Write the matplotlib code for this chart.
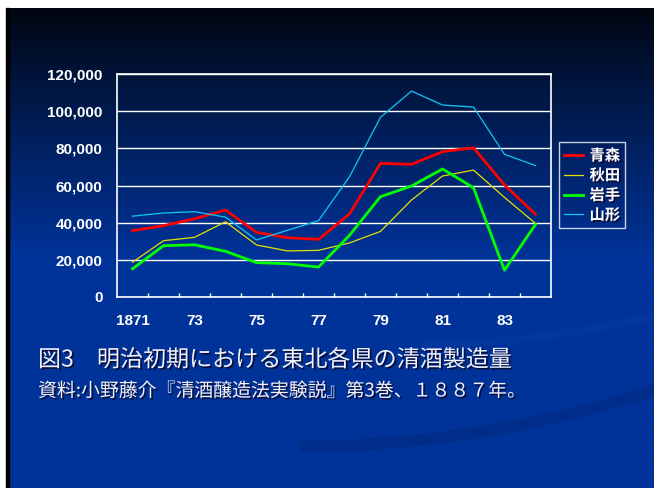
import matplotlib
matplotlib.use("Agg")
import matplotlib.pyplot as plt
import matplotlib.patheffects as pe
from matplotlib.patches import Rectangle
from matplotlib.ticker import FuncFormatter, FixedLocator
import numpy as np

# sake output by prefecture, early Meiji (koku)
years = list(range(1871, 1885))
year_labels = ["1871", "73", "75", "77", "79", "81", "83"]
prefectures = ["青森", "秋田", "岩手", "山形"]

aomori = [35700, 38400, 42100, 46800, 34800, 31900, 31000, 44700,
          71900, 71400, 78200, 80300, 60300, 44500]
akita = [18700, 30300, 32100, 40500, 28000, 24800, 25100, 29100,
         35300, 52200, 65100, 68300, 53600, 39600]
iwate = [15200, 27600, 28100, 24600, 18500, 17900, 16100, 33200,
         54000, 59700, 68900, 58800, 14400, 39100]
yamagata = [43500, 45200, 45900, 43000, 30700, 35900, 41100, 64700,
            96700, 110800, 103300, 102200, 76800, 70700]

series = [aomori, akita, iwate, yamagata]
colors = ["#ff0000", "#e6e000", "#00ff00", "#10c8f0"]
widths = [2.0, 0.9, 2.0, 0.9]

title = "図3　明治初期における東北各県の清酒製造量"
source = "資料:小野藤介『清酒醸造法実験説』第3巻、１８８７年。"

W, H = 654, 488
fig = plt.figure(figsize=(W / 100, H / 100), dpi=100, facecolor="white")

# slide background: dark-to-blue vertical gradient
bg = fig.add_axes([0, 0, 1, 1], zorder=0)
rows = np.linspace(0, 1, 256)
t = np.clip((rows * (H - 8)) / 250.0, 0, 1) ** 0.9
top = np.array([0.0, 0.02, 0.06])
bottom = np.array([0.0, 0.20, 0.60])
grad = top[None, :] * (1 - t[:, None]) + bottom[None, :] * t[:, None]
bg.imshow(grad[:, None, :], extent=[8, W, H, 8], aspect="auto", interpolation="bilinear")
bg.add_patch(Rectangle((6, 8), 3, H - 8, color="black"))

# faint swoosh bands in the lower right
xs = np.linspace(300, W, 200)
band1 = 440 - 0.00045 * (xs - 300) ** 2
bg.fill_between(xs, band1, band1 + 12, color="#002470", alpha=0.35, lw=0)
xs2 = np.linspace(420, W, 200)
band2 = 340 - 0.0009 * (xs2 - 420) ** 1.9
bg.fill_between(xs2, band2, band2 + 8, color="#1040a8", alpha=0.25, lw=0)
bg.set_xlim(0, W)
bg.set_ylim(H, 0)
bg.axis("off")

ax = fig.add_axes([117 / W, 1 - 297 / H, (551 - 117) / W, (297 - 74) / H], zorder=2)
ax.set_facecolor("none")
x = np.arange(len(years))
for vals, name, c, lw in zip(series, prefectures, colors, widths):
    ax.plot(x, vals, color=c, lw=lw, label=name, zorder=3)

ax.set_xlim(-0.5, len(years) - 0.5)
ax.set_ylim(0, 120000)
ax.set_yticks(np.arange(0, 120001, 20000))
ax.yaxis.set_major_formatter(FuncFormatter(lambda v, p: f"{int(v):,}"))
ax.grid(axis="y", color="white", lw=1.0, zorder=1)
ax.set_xticks(x[::2])
ax.set_xticklabels(year_labels)
ax.xaxis.set_minor_locator(FixedLocator(np.arange(0.5, len(years) - 1, 1)))
ax.tick_params(axis="x", which="major", length=0, pad=12)
ax.tick_params(axis="x", which="minor", direction="in", length=3, color="white", width=1)
ax.tick_params(axis="y", length=0, pad=10.5)
for lab in ax.get_xticklabels() + ax.get_yticklabels():
    lab.set_fontfamily("Liberation Sans")
    lab.set_fontweight("bold")
    lab.set_fontsize(11)
    lab.set_color("white")
for sp in ax.spines.values():
    sp.set_color("white")
    sp.set_linewidth(1.2)

shadow = [pe.withSimplePatchShadow(offset=(1.2, -1.2), shadow_rgbFace="#0a0a30", alpha=0.9)]

leg = ax.legend(loc="upper left", bbox_to_anchor=(559 / W, 1 - 142 / H),
                bbox_transform=fig.transFigure, borderaxespad=0,
                frameon=True, fancybox=False, handlelength=1.2,
                handletextpad=0.45, borderpad=0.35, labelspacing=0.25,
                prop={"family": ["Noto Sans CJK JP", "DejaVu Sans"],
                      "weight": "bold", "size": 11})
leg.get_frame().set_facecolor("none")
leg.get_frame().set_edgecolor("white")
leg.get_frame().set_linewidth(1.0)
for txt in leg.get_texts():
    txt.set_color("white")
    txt.set_path_effects(shadow)

cjk = ["Noto Sans CJK JP", "DejaVu Sans"]
bg.text(38, 360, title, family=cjk, fontsize=16.6, color="#f2f2fa",
        va="center", ha="left", path_effects=shadow, zorder=3)
bg.text(38, 391, source, family=cjk, fontsize=13.6, color="#f2f2fa",
        va="center", ha="left", path_effects=shadow, zorder=3)

fig.savefig("out.png", dpi=100, facecolor="white")
